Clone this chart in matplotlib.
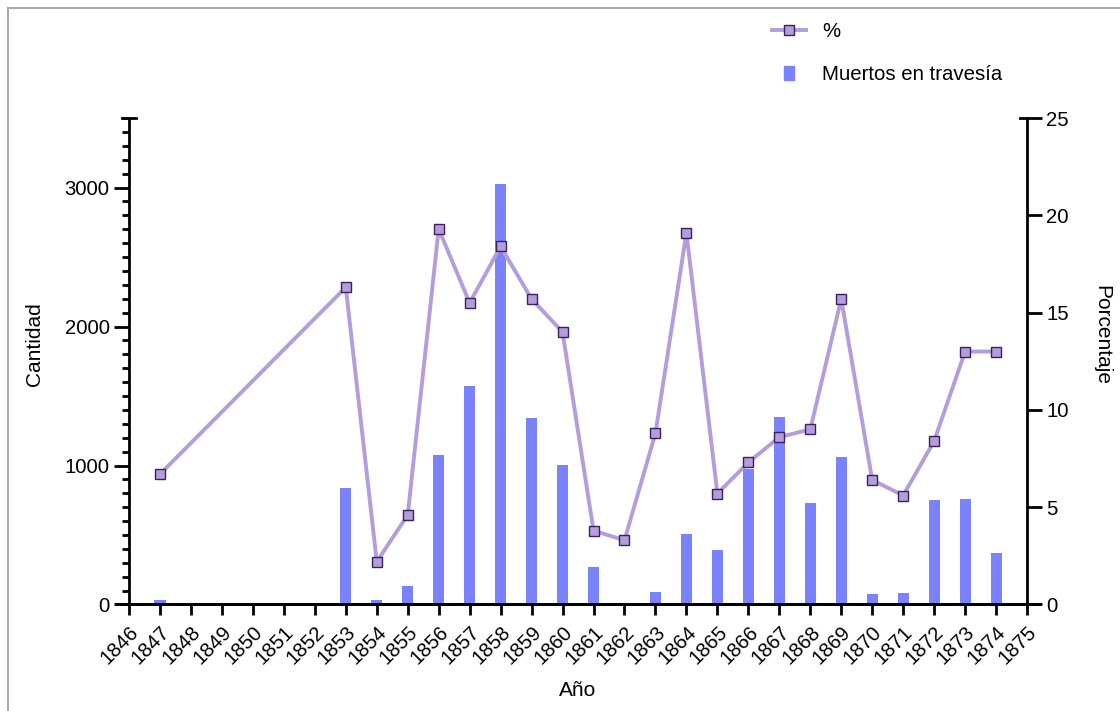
import matplotlib
matplotlib.use('Agg')
import matplotlib.pyplot as plt
from matplotlib.lines import Line2D
from matplotlib.ticker import MultipleLocator

plt.rcParams['font.family'] = ['Liberation Sans', 'DejaVu Sans']
plt.rcParams['font.size'] = 14.6

# Datos por año
anios = [1847, 1853, 1854, 1855, 1856, 1857, 1858, 1859, 1860, 1861, 1862,
         1863, 1864, 1865, 1866, 1867, 1868, 1869, 1870, 1871, 1872, 1873, 1874]
muertos = [30, 838, 32, 136, 1078, 1570, 3022, 1342, 1006, 273, 0,
           88, 508, 391, 975, 1350, 730, 1059, 78, 85, 751, 761, 369]
porcentaje = [6.7, 16.3, 2.2, 4.6, 19.3, 15.5, 18.4, 15.7, 14.0, 3.8, 3.3,
              8.8, 19.1, 5.7, 7.3, 8.6, 9.0, 15.7, 6.4, 5.6, 8.4, 13.0, 13.0]
ticks_x = list(range(1846, 1876))

color_barra = '#7B83FC'
color_linea = '#B39DDB'
color_borde = '#3B1F5E'

fig = plt.figure(figsize=(11.2, 7.11), dpi=100)
ax = fig.add_axes([0.1152, 0.1498, 0.917 - 0.1152, 0.834 - 0.1498])
ax2 = ax.twinx()

# Barras: muertos en travesía
ax.bar(anios, muertos, width=0.36, color=color_barra, zorder=2)
ax.set_xlim(1846, 1875)
ax.set_ylim(0, 3500)
ax.yaxis.set_major_locator(MultipleLocator(1000))
ax.yaxis.set_minor_locator(MultipleLocator(100))
ax.set_yticks([0, 1000, 2000, 3000])
ax.set_xticks(ticks_x)
ax.set_xticklabels([str(t) for t in ticks_x], rotation=45, ha='right',
                   rotation_mode='anchor')

# Línea: porcentaje
ax2.plot(anios, porcentaje, color=color_linea, linewidth=2.8, marker='s',
         markersize=6.5, markerfacecolor=color_linea,
         markeredgecolor=color_borde, markeredgewidth=1.0, zorder=3)
ax2.set_ylim(0, 25)
ax2.set_yticks([0, 5, 10, 15, 20, 25])

for a in (ax, ax2):
    a.spines['top'].set_visible(False)
    for s in ('left', 'right', 'bottom'):
        a.spines[s].set_linewidth(2)
ax.spines['right'].set_visible(False)
ax2.spines['left'].set_visible(False)
ax2.spines['bottom'].set_visible(False)

ax.tick_params(axis='y', which='major', length=11, width=2, pad=3)
ax.tick_params(axis='y', which='minor', length=5, width=2)
ax.tick_params(axis='x', which='major', length=8, width=2, pad=5)
ax2.tick_params(axis='y', which='major', length=11, width=2, pad=3)

# Extensión del eje x más allá de los ejes verticales
ax.plot([-0.013, 1.013], [0, 0], transform=ax.transAxes, color='black',
        linewidth=2, clip_on=False, zorder=5)
ax.plot([-0.008, 0.008], [1, 1], transform=ax.transAxes, color='black',
        linewidth=2, clip_on=False, zorder=5)
ax2.plot([0.992, 1.0], [1, 1], transform=ax2.transAxes, color='black',
         linewidth=2, clip_on=False, zorder=5)

ax.set_xlabel('Año', fontsize=15)
ax.xaxis.set_label_coords(0.5, -0.157)
ax.set_ylabel('Cantidad', fontsize=15)
ax.yaxis.set_label_coords(-0.095, 0.535)
ax2.set_ylabel('Porcentaje', rotation=270, va='center', fontsize=15)
ax2.yaxis.set_label_coords(1.0835, 0.553)

# Leyenda
h_linea = Line2D([], [], color=color_linea, linewidth=2.8, marker='s',
                 markersize=6.5, markerfacecolor=color_linea,
                 markeredgecolor=color_borde, markeredgewidth=1.0)
rect = [(-0.37, -0.5), (0.37, -0.5), (0.37, 0.5), (-0.37, 0.5), (-0.37, -0.5)]
h_barra = Line2D([], [], linestyle='none', marker=rect, markersize=10.5,
                 markerfacecolor=color_barra, markeredgecolor=color_barra)
fig.legend([h_linea, h_barra], ['%', 'Muertos en travesía'],
           loc='upper left', bbox_to_anchor=(0.673, 0.9944), frameon=False,
           fontsize=14.7, handlelength=1.67, labelspacing=1.15,
           handletextpad=0.78)

# Marco gris
W, H = 1120, 711
fig.add_artist(Line2D([8 / W, 8 / W], [0, 1 - 8 / H], color='#AAAAAA',
                      linewidth=1.5, transform=fig.transFigure))
fig.add_artist(Line2D([8 / W, 1], [1 - 8 / H, 1 - 8 / H], color='#AAAAAA',
                      linewidth=1.5, transform=fig.transFigure))

fig.savefig('out.png', dpi=100)
